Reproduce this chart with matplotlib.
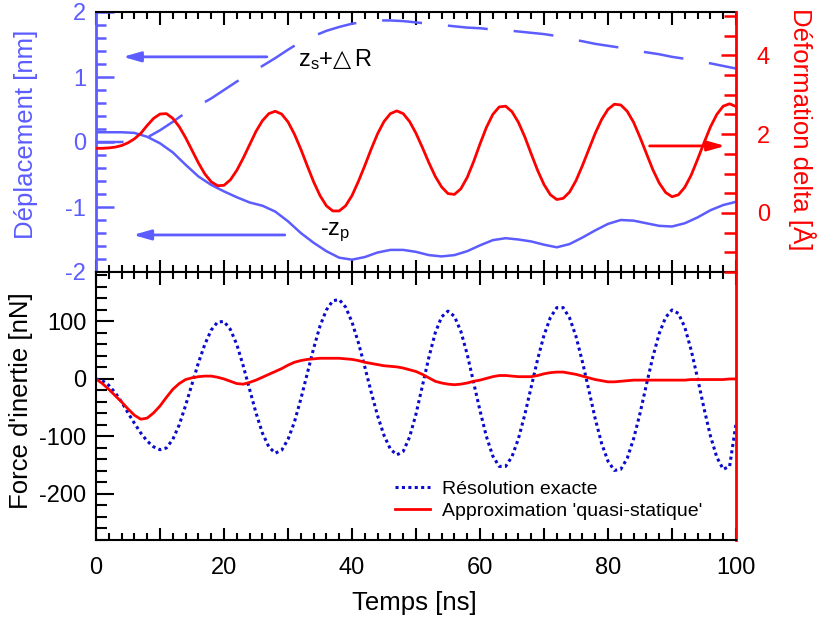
import numpy as np
import matplotlib
matplotlib.use("Agg")
import matplotlib.pyplot as plt
from matplotlib.ticker import MultipleLocator, FuncFormatter

plt.rcParams['font.family'] = ['Liberation Sans', 'DejaVu Sans']
plt.rcParams['mathtext.fontset'] = 'custom'
plt.rcParams['mathtext.rm'] = 'Liberation Sans'
plt.rcParams['mathtext.sf'] = 'DejaVu Sans'
plt.rcParams['axes.unicode_minus'] = False

# --- data ---
# 1 ns grid (bottom panel + deformation), 2 ns grid (displacements)
t1 = np.arange(0, 101, 1)
t2 = np.arange(0, 101, 2)

# top panel, left axis [nm]
zs_dR = [0, 0, 0, 0.02, 0.07, 0.18, 0.31, 0.45, 0.56, 0.67, 0.80, 0.93, 1.05, 1.17,
         1.29, 1.42, 1.54, 1.63, 1.71, 1.77, 1.82, 1.85, 1.87, 1.87, 1.86, 1.84,
         1.82, 1.80, 1.78, 1.76, 1.75, 1.73, 1.72, 1.70, 1.68, 1.66, 1.63, 1.59,
         1.55, 1.51, 1.48, 1.45, 1.41, 1.38, 1.35, 1.31, 1.28, 1.24, 1.21, 1.17, 1.13]
minus_zp = [0.15, 0.15, 0.15, 0.14, 0.08, -0.02, -0.16, -0.35, -0.53, -0.66, -0.76,
            -0.85, -0.93, -0.98, -1.07, -1.22, -1.40, -1.55, -1.68, -1.78, -1.81,
            -1.77, -1.70, -1.66, -1.66, -1.69, -1.74, -1.76, -1.74, -1.68, -1.59,
            -1.51, -1.48, -1.50, -1.53, -1.58, -1.62, -1.57, -1.47, -1.36, -1.26,
            -1.20, -1.21, -1.25, -1.29, -1.30, -1.25, -1.16, -1.05, -0.97, -0.92]

# top panel, right axis [A]
delta = [1.64, 1.64, 1.65, 1.67, 1.71, 1.78, 1.88, 2.02, 2.22, 2.40, 2.51, 2.52, 2.40,
         2.19, 1.91, 1.59, 1.27, 0.99, 0.79, 0.69, 0.70, 0.84, 1.08, 1.39, 1.73, 2.07,
         2.34, 2.52, 2.58, 2.51, 2.31, 2.00, 1.62, 1.20, 0.79, 0.44, 0.18, 0.05, 0.05,
         0.18, 0.44, 0.80, 1.20, 1.62, 2.01, 2.32, 2.52, 2.59, 2.52, 2.32, 2.02, 1.66,
         1.28, 0.93, 0.66, 0.49, 0.47, 0.61, 0.90, 1.30, 1.75, 2.17, 2.50, 2.69, 2.71,
         2.57, 2.30, 1.93, 1.50, 1.08, 0.72, 0.46, 0.34, 0.37, 0.53, 0.82, 1.20, 1.61,
         2.02, 2.37, 2.63, 2.76, 2.74, 2.58, 2.30, 1.92, 1.51, 1.10, 0.76, 0.52, 0.41,
         0.46, 0.65, 0.96, 1.36, 1.78, 2.18, 2.50, 2.71, 2.77, 2.70]

# bottom panel [nN]
force_exacte = [0, -3, -11, -24, -40, -59, -77, -94, -108, -118, -123, -120, -105, -80,
                -46, -9, 28, 60, 85, 99, 100, 86, 60, 23, -18, -59, -94, -118, -129,
                -124, -105, -75, -35, 9, 53, 92, 120, 136, 138, 125, 99, 63, 21, -23,
                -64, -98, -122, -132, -126, -101, -61, -12, 37, 80, 108, 118, 109, 83,
                43, -6, -55, -100, -134, -152, -152, -135, -104, -62, -14, 34, 76, 107,
                124, 124, 106, 74, 30, -19, -69, -112, -143, -159, -157, -138, -104,
                -60, -10, 38, 79, 107, 120, 114, 90, 50, 1, -51, -99, -136, -157, -152, -78]
force_quasi = [0, -8, -18, -29, -40, -52, -63, -70, -68, -59, -47, -32, -18, -8, -1, 2,
               4, 5, 5, 3, 0, -4, -8, -9, -6, -2, 3, 8, 13, 18, 24, 29, 32, 34, 35, 36,
               36, 36, 36, 35, 34, 32, 29, 27, 25, 23, 22, 21, 19, 16, 13, 8, 2, -4, -7,
               -9, -10, -9, -7, -4, -2, 1, 4, 6, 6, 5, 4, 4, 4, 6, 9, 11, 12, 12, 10, 8,
               5, 2, -1, -3, -5, -5, -4, -3, -2, -2, -2, -2, -2, -2, -2, -2, -2, -1, -1,
               -1, -1, -1, -1, 0, 0]

BLUE = '#5c5cff'
DARKBLUE = '#0a0acc'
RED = '#ff0000'

fig = plt.figure(figsize=(8.17, 6.17), dpi=100)
W, H = 817.0, 617.0
ax1 = fig.add_axes([96 / W, 1 - 272 / H, 640 / W, 260 / H])
ax2 = fig.add_axes([96 / W, 1 - 540 / H, 640 / W, 268 / H])
ax1r = ax1.twinx()

# ---- top panel ----
ax1.plot(t2, zs_dR, color=BLUE, lw=1.8, linestyle=(5, (16, 10.4)))
ax1.plot(t2, minus_zp, color=BLUE, lw=1.8)
ax1r.plot(t1, delta, color=RED, lw=2)

ax1.set_xlim(0, 100)
ax1.set_ylim(-2, 2)
ax1r.set_ylim(-1.5, 5.1)

arrow = '-|>,head_length=0.7,head_width=0.2'
ax1.annotate('', xy=(4.2, 1.31), xytext=(26.7, 1.31),
             arrowprops=dict(arrowstyle=arrow, color=BLUE, lw=2,
                             mutation_scale=15, shrinkA=0, shrinkB=0))
ax1.annotate('', xy=(5.8, -1.43), xytext=(29.5, -1.43),
             arrowprops=dict(arrowstyle=arrow, color=BLUE, lw=2,
                             mutation_scale=15, shrinkA=0, shrinkB=0))
ax1r.annotate('', xy=(98.3, 1.70), xytext=(86.5, 1.70),
              arrowprops=dict(arrowstyle=arrow, color=RED, lw=2,
                              mutation_scale=15, shrinkA=0, shrinkB=0))
ax1.text(31.6, 1.27, r'$\mathrm{z_s}$+$\mathsf{△}\,$R', fontsize=17, va='center', ha='left')
ax1.text(35.0, -1.39, r'-$\mathrm{z_p}$', fontsize=17, va='center', ha='left')

# ---- bottom panel ----
ax2.plot(t1, force_exacte, color=DARKBLUE, lw=2.2, linestyle=(0, (1, 1.1)),
         label='Résolution exacte')
ax2.plot(t1, force_quasi, color=RED, lw=2, label="Approximation 'quasi-statique'")
ax2.set_xlim(0, 100)
ax2.set_ylim(-280, 186)

ax2.legend(loc='upper left', bbox_to_anchor=((395 - 96) / 640, (540 - 480) / 268),
           frameon=False, fontsize=14, handlelength=1.8, handletextpad=0.6,
           borderpad=0, borderaxespad=0, labelspacing=0.25)

# ---- axes styling ----
xfmt = FuncFormatter(lambda v, p: '%d' % v if abs(v % 20) < 1e-6 else '')
for ax in (ax1, ax2):
    ax.xaxis.set_major_locator(MultipleLocator(10))
    ax.xaxis.set_minor_locator(MultipleLocator(2))
    ax.xaxis.set_major_formatter(xfmt)
    ax.tick_params(axis='x', which='both', direction='in', top=True, bottom=True,
                   color='black', width=1.5, labelsize=17, pad=12)
    ax.tick_params(axis='x', which='major', length=9)
    ax.tick_params(axis='x', which='minor', length=5)
    ax.spines['top'].set_linewidth(1.5)
    ax.spines['bottom'].set_linewidth(1.5)
ax1.tick_params(axis='x', which='both', labelbottom=False)

ax1.yaxis.set_major_locator(MultipleLocator(1))
ax1.yaxis.set_minor_locator(MultipleLocator(0.2))
ax1.tick_params(axis='y', which='both', direction='in', left=True, right=False,
                color=BLUE, labelcolor=BLUE, width=1.8, labelsize=17, pad=7)
ax1.tick_params(axis='y', which='major', length=13)
ax1.tick_params(axis='y', which='minor', length=7)
ax1.spines['left'].set_color(BLUE)
ax1.spines['left'].set_linewidth(2)
ax1.spines['right'].set_visible(False)

ax1r.yaxis.set_major_locator(MultipleLocator(2))
ax1r.yaxis.set_minor_locator(MultipleLocator(0.5))
ax1r.tick_params(axis='y', which='both', direction='in', color=RED, labelcolor=RED,
                 width=1.8, labelsize=17, pad=15)
ax1r.tick_params(axis='y', which='major', length=11)
ax1r.tick_params(axis='y', which='minor', length=9)
for s in ('left', 'top', 'bottom'):
    ax1r.spines[s].set_visible(False)
ax1r.spines['right'].set_color(RED)
ax1r.spines['right'].set_linewidth(2)

ax2.yaxis.set_major_locator(MultipleLocator(100))
ax2.yaxis.set_minor_locator(MultipleLocator(20))
ax2.tick_params(axis='y', which='both', direction='in', left=True, right=False,
                color='black', width=1.5, labelsize=17, pad=7)
ax2.tick_params(axis='y', which='major', length=13)
ax2.tick_params(axis='y', which='minor', length=8)
ax2.spines['left'].set_linewidth(1.5)
ax2.spines['right'].set_color(RED)
ax2.spines['right'].set_linewidth(2)

ax1.set_ylabel('Déplacement [nm]', color=BLUE, fontsize=18.5)
ax1.yaxis.set_label_coords(-0.091, 0.53)
ax1r.set_ylabel('Déformation delta [Å]', color=RED, fontsize=18.5, rotation=-90,
                va='center')
ax1r.yaxis.set_label_coords(1.103, 0.55)
ax2.set_ylabel("Force d'inertie [nN]", fontsize=18.5)
ax2.yaxis.set_label_coords(-0.098, 0.52)
ax2.set_xlabel('Temps [ns]', fontsize=18.5)
ax2.xaxis.set_label_coords(0.498, -0.19)

fig.savefig('out.png', dpi=100)
